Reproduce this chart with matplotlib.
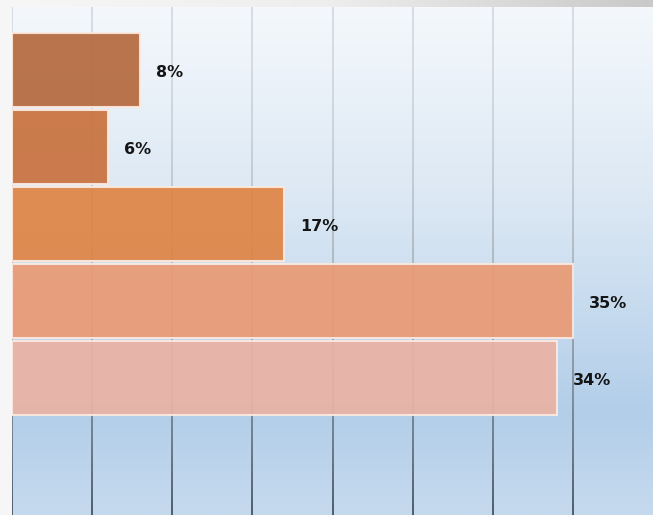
import numpy as np
import matplotlib
matplotlib.use("Agg")
from matplotlib import pyplot as plt
from matplotlib.collections import LineCollection
from matplotlib.colors import LinearSegmentedColormap, to_rgb

# values (top bar first)
values = [8, 6, 17, 35, 34]
labels = ["8%", "6%", "17%", "35%", "34%"]
bar_colors = ["#B56A40", "#C9723F", "#DF8546", "#E99A74", "#EAB2A3"]

fig = plt.figure(figsize=(6.53, 5.15), dpi=100)

# figure backdrop (light grey frame strip)
bg = fig.add_axes([0, 0, 1, 1])
bg.imshow(np.linspace(0, 1, 256)[None, :], aspect="auto", extent=[0, 1, 0, 1],
          cmap=LinearSegmentedColormap.from_list("frame", ["#F7F7F7", "#EEEEEE", "#C9C9C9"]))
bg.set_axis_off()

ax = fig.add_axes([12 / 653, 0, 641 / 653, 508 / 515])
ax.set_xlim(0, 40)
ax.set_ylim(5.78, -0.82)

# vertical blue gradient background
sky = LinearSegmentedColormap.from_list(
    "sky", [(0, "#F4F8FC"), (0.38, "#DCE8F4"), (0.8, "#B2CEE9"), (1, "#C6DAEE")])
ax.imshow(np.linspace(0, 1, 256)[:, None], aspect="auto", cmap=sky,
          extent=[0, 40, 5.78, -0.82], zorder=0)

# gridlines that darken towards the bottom
ys = np.linspace(-0.82, 5.78, 60)
top_c = np.array(to_rgb("#D6DCE2"))
bot_c = np.array(to_rgb("#4E5E6E"))
for gx in np.arange(0, 40, 5):
    segs = [[(gx, ys[i]), (gx, ys[i + 1])] for i in range(len(ys) - 1)]
    t = np.linspace(0, 1, len(segs))[:, None] ** 1.8
    cols = top_c * (1 - t) + bot_c * t
    ax.add_collection(LineCollection(segs, colors=cols, linewidths=1.4, zorder=1))

pos = np.arange(len(values))
ax.barh(pos, values, height=0.97, color=bar_colors, alpha=0.93,
        edgecolor="#FBE9E0", linewidth=1.5, zorder=2)

for p, v, lab in zip(pos, values, labels):
    ax.text(v + 1.0, p + 0.03, lab, va="center", ha="left", fontsize=11.5,
            fontweight="bold", color="#151515", zorder=3)

ax.set_axis_off()
fig.savefig("out.png", dpi=100)
